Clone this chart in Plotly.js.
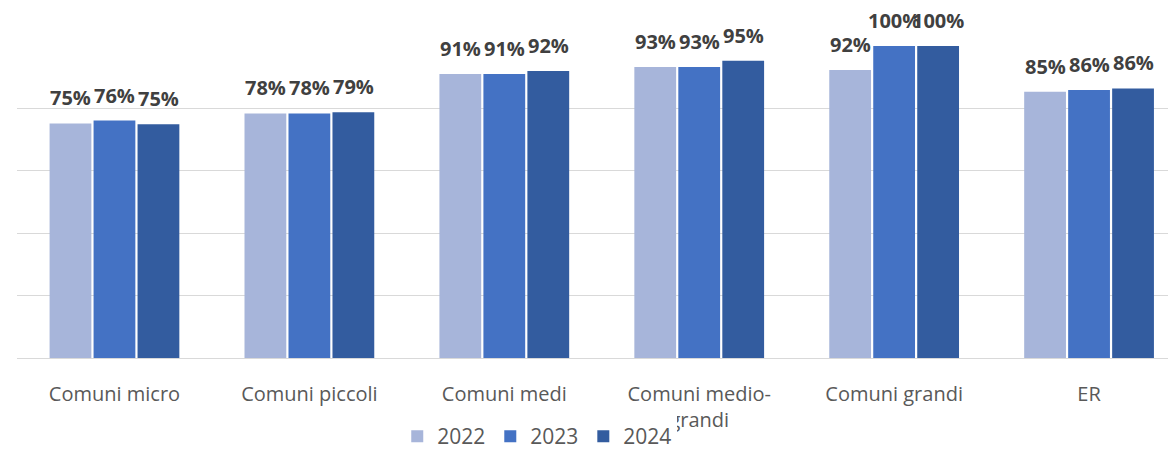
<!DOCTYPE html>
<html>
<head>
<meta charset="utf-8">
<script src="https://cdn.plot.ly/plotly-3.0.1.min.js"></script>
<style>html,body{margin:0;padding:0;background:#fff;}#chart{width:1168px;height:450px;}</style>
</head>
<body>
<div id="chart"></div>
<script>
const categories = ["Comuni micro", "Comuni piccoli", "Comuni medi", "Comuni medio-<br>grandi", "Comuni grandi", "ER"];
const seriesNames = ["2022", "2023", "2024"];
const values2022 = [75.2, 78.4, 91.0, 93.3, 92.3, 85.3];
const values2023 = [76.1, 78.4, 91.0, 93.3, 100, 85.9];
const values2024 = [74.9, 78.8, 92.0, 95.3, 100, 86.4];
const colors = ["#A7B5DA", "#4472C4", "#335C9F"];

const allValues = [values2022, values2023, values2024];
const traces = allValues.map((vals, s) => ({
  type: "bar",
  name: seriesNames[s],
  x: categories,
  y: vals,
  marker: { color: colors[s] },
  hoverinfo: "skip"
}));

const slot = 44;
const annotations = [];
allValues.forEach((vals, s) => {
  vals.forEach((v, i) => {
    annotations.push({
      x: categories[i], y: v, xref: "x", yref: "y",
      text: Math.round(v) + "%",
      showarrow: false,
      xshift: (s - 1) * slot,
      yanchor: "bottom",
      yshift: 10,
      font: { family: "Open Sans, sans-serif", size: 20, color: "#404040", weight: "bold" }
    });
  });
});

const layout = {
  width: 1168, height: 450,
  margin: { l: 16.5, r: 0, t: 46, b: 92, autoexpand: false },
  paper_bgcolor: "#fff", plot_bgcolor: "#fff",
  barmode: "group",
  bargap: 0.323,
  bargroupgap: 0.05,
  showlegend: true,
  legend: {
    orientation: "h", x: 0.452, xanchor: "center", y: -0.186, yanchor: "top",
    font: { family: "Open Sans, sans-serif", size: 21, color: "#595959" },
    traceorder: "normal"
  },
  xaxis: {
    type: "category",
    range: [-0.5, 5.405],
    showgrid: false, zeroline: false, showline: false,
    ticks: "",
    ticklabelstandoff: 22,
    tickfont: { family: "Open Sans, sans-serif", size: 20, color: "#595959" },
    fixedrange: true
  },
  yaxis: {
    range: [0, 100],
    dtick: 20,
    showticklabels: false,
    showgrid: true, gridcolor: "#D9D9D9", gridwidth: 1,
    zeroline: true, zerolinecolor: "#D9D9D9", zerolinewidth: 1,
    showline: false, ticks: "",
    fixedrange: true
  },
  annotations: annotations
};

Plotly.newPlot("chart", traces, layout, { displayModeBar: false, staticPlot: true });
</script>
</body>
</html>
